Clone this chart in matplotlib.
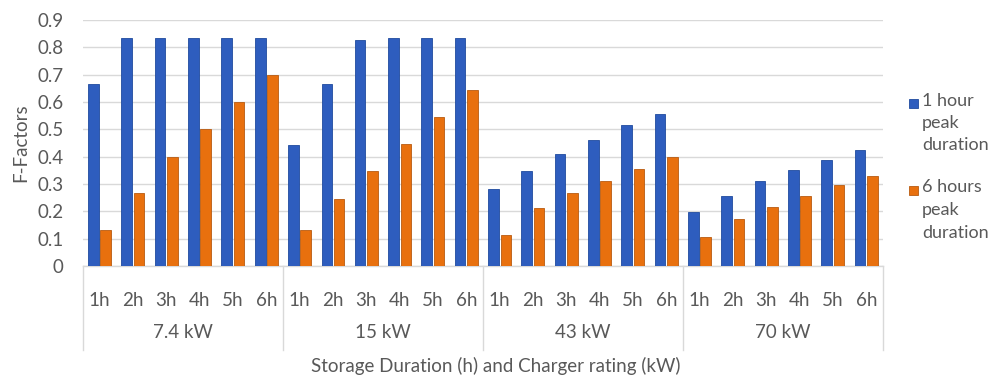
import matplotlib
matplotlib.use("Agg")
import matplotlib.pyplot as plt
import numpy as np
from matplotlib.patches import Rectangle
from matplotlib.lines import Line2D
import matplotlib.transforms as mtransforms

ratings = ["7.4 kW", "15 kW", "43 kW", "70 kW"]
durations = ["1h", "2h", "3h", "4h", "5h", "6h"]
series_names = ["1 hour\npeak\nduration", "6 hours\npeak\nduration"]

one_hour = [0.667, 0.833, 0.833, 0.833, 0.833, 0.833,
            0.444, 0.667, 0.826, 0.833, 0.833, 0.833,
            0.283, 0.348, 0.409, 0.461, 0.515, 0.556,
            0.199, 0.257, 0.311, 0.351, 0.387, 0.423]
six_hours = [0.133, 0.267, 0.400, 0.500, 0.600, 0.700,
             0.133, 0.245, 0.346, 0.446, 0.546, 0.644,
             0.113, 0.213, 0.266, 0.310, 0.356, 0.398,
             0.107, 0.171, 0.215, 0.256, 0.296, 0.329]

yticks = [0, 0.1, 0.2, 0.3, 0.4, 0.5, 0.6, 0.7, 0.8, 0.9]
ytick_labels = ["0", "0.1", "0.2", "0.3", "0.4", "0.5", "0.6", "0.7", "0.8", "0.9"]

plt.rcParams['font.family'] = ['Lato', 'DejaVu Sans']
txt = "#595959"
blue = "#2E5DBE"
orange = "#E8700E"
fs = 13.5

fig = plt.figure(figsize=(9.9, 3.8), dpi=100)
ax = fig.add_axes([83/990, 1-266/380, 800/990, 246/380])

n = len(one_hour)
x = np.arange(n)
w = 0.32
ax.bar(x - 0.185, one_hour, w, color=blue, edgecolor="#1F4A9E", linewidth=0.6, zorder=3)
ax.bar(x + 0.185, six_hours, w, color=orange, edgecolor="#B85A10", linewidth=0.6, zorder=3)

ax.set_xlim(-0.5, n - 0.5)
ax.set_ylim(0, 0.9)
ax.set_yticks(yticks)
ax.set_yticklabels(ytick_labels, fontsize=fs, color=txt)
ax.yaxis.grid(True, color="#D9D9D9", linewidth=1.0, zorder=0)
ax.set_axisbelow(True)
for s in ["left", "right", "top"]:
    ax.spines[s].set_visible(False)
ax.spines["bottom"].set_color("#D9D9D9")
ax.spines["bottom"].set_linewidth(1.0)
ax.tick_params(axis="y", length=0, pad=14)
ax.tick_params(axis="x", length=0, labelbottom=False)
ax.set_ylabel("F-Factors", fontsize=fs, color=txt, labelpad=6)

# multi-level category labels
trans = mtransforms.blended_transform_factory(ax.transData, fig.transFigure)
for i in range(n):
    ax.text(x[i], 1 - 300/380, durations[i % len(durations)], transform=trans,
            ha="center", va="center", fontsize=fs, color=txt)
ng = len(durations)
for g, r in enumerate(ratings):
    cx = g * ng + (ng - 1) / 2
    ax.text(cx, 1 - 333/380, r, transform=trans, ha="center", va="center",
            fontsize=fs, color=txt)
for g in range(len(ratings) + 1):
    bx = g * ng - 0.5
    ax.add_line(Line2D([bx, bx], [1 - 266/380, 1 - 350/380], transform=trans,
                       color="#D9D9D9", linewidth=1.0, clip_on=False))

fig.text(496/990, 1 - 366/380, "Storage Duration (h) and Charger rating (kW)",
         ha="center", va="center", fontsize=fs, color=txt)

# legend drawn manually
leg_colors = [(blue, "#1F4A9E"), (orange, "#B85A10")]
leg_tops = [103, 190]
for (fc, ec), name, yc in zip(leg_colors, series_names, leg_tops):
    fig.patches.append(Rectangle((909/990, 1 - (yc + 4.5)/380), 9/990, 9/380,
                                 transform=fig.transFigure, facecolor=fc,
                                 edgecolor=ec, linewidth=0.6))
    fig.text(922/990, 1 - (yc - 10.5)/380, name, ha="left", va="top",
             fontsize=13, color=txt, linespacing=1.5)

fig.savefig("out.png", dpi=100)
